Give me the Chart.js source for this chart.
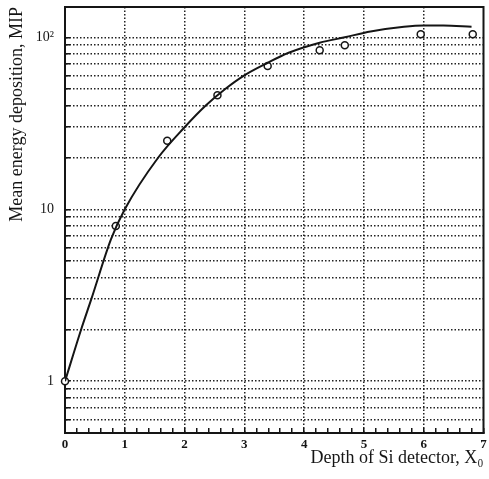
<!DOCTYPE html>
<html>
<head>
<meta charset="utf-8">
<script src="https://cdn.jsdelivr.net/npm/chart.js@4"></script>
<style>
  html, body { margin: 0; padding: 0; background: #fff; }
</style>
</head>
<body>
<canvas id="depthChart" width="489" height="479"></canvas>
<script>
// fitted curve
const curveX = [0, 0.27, 0.44, 0.77, 1.0, 1.56, 2.0, 2.35, 2.68, 3.0, 3.39, 3.73, 4.26, 4.68, 5.11, 5.67, 6.0, 6.33, 6.8];
const curveY = [1, 2, 3, 6.7, 10, 20, 30, 40, 50, 60, 71, 81, 93, 100, 108, 115, 117, 117, 115];

// measured points (open circles)
const pointX = [0, 0.85, 1.71, 2.55, 3.39, 4.26, 4.68, 5.95, 6.82];
const pointY = [1, 8, 25, 46, 68, 84, 90, 104, 104];

const xTickLabels = ['0', '1', '2', '3', '4', '5', '6', '7'];
const yGridValues = [0.6, 0.7, 0.8, 0.9, 1, 2, 3, 4, 5, 6, 7, 8, 9, 10, 20, 30, 40, 50, 60, 70, 80, 90, 100];
const yLabelValues = [1, 10, 100];
const yLabelTexts = ['1', '10', '10\u00b2'];

const ink = '#151515';
const serif = '"Liberation Serif", "DejaVu Serif", serif';

function isInt(v) {
  return Math.abs(v - Math.round(v)) < 1e-6;
}

const frame = {
  id: 'frame',
  afterDraw(chart) {
    const { ctx, chartArea: a } = chart;
    ctx.save();
    ctx.strokeStyle = ink;
    ctx.lineWidth = 2;
    ctx.beginPath();
    ctx.moveTo(a.left, a.top);
    ctx.lineTo(a.right, a.top);
    ctx.lineTo(a.right, a.bottom);
    ctx.stroke();
    ctx.restore();
  }
};

new Chart(document.getElementById('depthChart'), {
  type: 'scatter',
  data: {
    datasets: [
      {
        data: curveX.map((x, i) => ({ x: x, y: curveY[i] })),
        showLine: true,
        borderColor: ink,
        borderWidth: 2,
        pointRadius: 0,
        cubicInterpolationMode: 'monotone',
        fill: false
      },
      {
        data: pointX.map((x, i) => ({ x: x, y: pointY[i] })),
        showLine: false,
        pointStyle: 'circle',
        pointRadius: 3.5,
        pointBorderWidth: 1.5,
        borderColor: ink,
        backgroundColor: '#fff',
        clip: false
      }
    ]
  },
  options: {
    responsive: false,
    animation: false,
    devicePixelRatio: 1,
    layout: { padding: { top: 7, right: 2, left: 0, bottom: 0 } },
    plugins: { legend: { display: false }, tooltip: { enabled: false } },
    scales: {
      x: {
        type: 'linear',
        min: 0,
        max: 7,
        afterFit(s) {
          s.height = 46;
          s.paddingLeft = 0;
          s.paddingRight = 0;
        },
        ticks: {
          stepSize: 0.2,
          autoSkip: false,
          maxRotation: 0,
          padding: 9,
          color: ink,
          font: { family: serif, size: 13, weight: 'bold' },
          callback(v) { return isInt(v) ? xTickLabels[Math.round(v)] : ''; }
        },
        grid: {
          color: c => (c.tick && isInt(c.tick.value) && c.tick.value > 0 && c.tick.value < 7) ? '#222' : 'rgba(0,0,0,0)',
          lineWidth: 1.5,
          tickColor: ink,
          tickLength: -5,
          tickWidth: 1.5
        },
        border: { color: ink, width: 2, dash: [1.5, 2] },
        title: {
          display: true,
          text: 'Depth of Si detector, X\u2080',
          align: 'end',
          color: ink,
          font: { family: serif, size: 18 },
          padding: { top: 0, bottom: 10 }
        }
      },
      y: {
        type: 'logarithmic',
        min: 0.5,
        max: 150,
        afterFit(s) {
          s.width = 65;
          s.paddingTop = 0;
          s.paddingBottom = 0;
        },
        afterBuildTicks(s) { s.ticks = yGridValues.map(v => ({ value: v })); },
        ticks: {
          autoSkip: false,
          padding: 16,
          color: ink,
          font: { family: serif, size: 14 },
          callback(v) {
            const i = yLabelValues.indexOf(v);
            return i >= 0 ? yLabelTexts[i] : '';
          }
        },
        grid: {
          color: '#222',
          lineWidth: 1.5,
          tickColor: ink,
          tickLength: -5,
          tickWidth: 1.5
        },
        border: { color: ink, width: 2, dash: [1.5, 2] },
        title: {
          display: true,
          text: 'Mean energy deposition, MIP',
          align: 'end',
          color: ink,
          font: { family: serif, size: 18 },
          padding: { top: 6, bottom: 0 }
        }
      }
    }
  },
  plugins: [frame]
});
</script>
</body>
</html>
